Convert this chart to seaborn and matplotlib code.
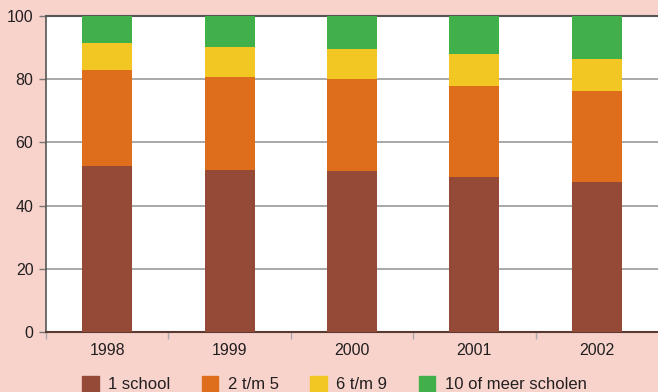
import matplotlib
matplotlib.use("Agg")
import matplotlib.pyplot as plt
import matplotlib.patches as mpatches
import numpy as np
import pandas as pd
import seaborn as sns

# data (percentages)
jaren = ["1998", "1999", "2000", "2001", "2002"]
categorieen = ["1 school", "2 t/m 5", "6 t/m 9", "10 of meer scholen"]
een_school = [52.7, 51.4, 51.1, 49.2, 47.6]
twee_tm_vijf = [30.3, 29.4, 29.0, 28.7, 28.7]
zes_tm_negen = [8.5, 9.4, 9.5, 10.1, 10.1]
tien_of_meer = [8.5, 9.8, 10.4, 12.0, 13.6]
kleuren = ["#944a37", "#de6e1b", "#f2c723", "#41b04b"]

reeksen = [een_school, twee_tm_vijf, zes_tm_negen, tien_of_meer]
cum = np.cumsum(np.array(reeksen), axis=0)
df = pd.DataFrame({"jaar": jaren})
for i, cat in enumerate(categorieen):
    df[cat] = cum[i]

sns.set_theme(style="white")
plt.rcParams["font.family"] = ["Liberation Sans", "DejaVu Sans"]
bg = "#f7d3cc"
tekst = "#231f20"

fig = plt.figure(figsize=(6.58, 3.92), dpi=100, facecolor=bg)
ax = fig.add_axes([0.0699, 0.153, 0.9301, 0.806])
ax.set_facecolor("white")

# stacked bars: draw the cumulative totals from top layer to bottom
for i in reversed(range(len(categorieen))):
    sns.barplot(data=df, x="jaar", y=categorieen[i], order=jaren, color=kleuren[i],
                width=0.41, saturation=1, linewidth=0, ax=ax, zorder=3)

ax.set_ylim(0, 100)
ax.set_xlim(-0.5, 4.5)
ax.set_yticks([0, 20, 40, 60, 80, 100])
ax.yaxis.grid(True, color="#999999", linewidth=1.2, zorder=0)
ax.set_axisbelow(True)
ax.set_xlabel("")
ax.set_ylabel("")

ax.spines["right"].set_visible(False)
ax.spines["top"].set_color("#555555")
ax.spines["top"].set_linewidth(1.5)
ax.spines["left"].set_color("#555555")
ax.spines["left"].set_linewidth(1.2)
ax.spines["bottom"].set_color("#5a3a30")
ax.spines["bottom"].set_linewidth(1.5)

ax.tick_params(axis="y", left=True, length=5, width=1, color="#777777",
               labelsize=11.5, labelcolor=tekst, pad=4)
ax.tick_params(axis="x", which="major", length=0, labelsize=11.5, labelcolor=tekst, pad=8)
ax.set_xticks(np.arange(-0.5, 4.0, 1.0), minor=True)
ax.tick_params(axis="x", which="minor", bottom=True, length=5, width=1, color="#aaaaaa")

handles = [mpatches.Patch(color=k, label=c) for k, c in zip(kleuren, categorieen)]
fig.legend(handles=handles, loc="center", bbox_to_anchor=(0.508, 0.02), ncol=4,
           frameon=False, fontsize=12, handlelength=1.0, handleheight=1.0,
           handletextpad=0.55, columnspacing=1.9, labelcolor=tekst)

fig.savefig("out.png", dpi=100, facecolor=bg)
